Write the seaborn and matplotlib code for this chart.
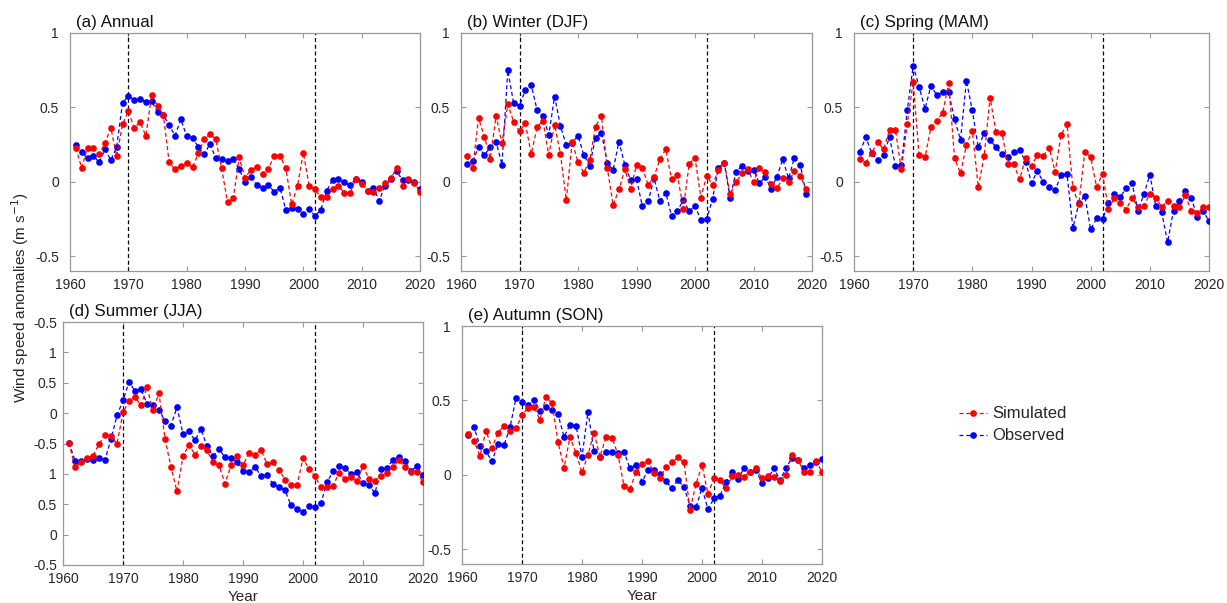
import numpy as np
import pandas as pd
import matplotlib
matplotlib.use("Agg")
import matplotlib.pyplot as plt
from matplotlib.lines import Line2D
import seaborn as sns

# ---------------- data ----------------
years = list(range(1961, 2021))
years_djf = list(range(1961, 2020))

annual_sim = [0.226, 0.094, 0.229, 0.229, 0.186, 0.26, 0.363, 0.17, 0.386, 0.475,
              0.363, 0.40, 0.31, 0.583, 0.51, 0.45, 0.13, 0.083, 0.105, 0.128,
              0.096, 0.19, 0.285, 0.32, 0.285, 0.09, -0.137, -0.108, 0.164, 0.027,
              0.078, 0.10, 0.052, 0.085, 0.175, 0.175, 0.09, -0.152, -0.027, 0.195,
              -0.027, -0.05, -0.103, -0.105, -0.047, -0.027, -0.074, -0.074, 0.016, -0.018,
              -0.06, -0.067, -0.04, -0.007, 0.022, 0.094, -0.027, 0.016, -0.007, -0.067]
annual_obs = [0.25, 0.20, 0.157, 0.175, 0.13, 0.217, 0.146, 0.233, 0.53, 0.576,
              0.55, 0.556, 0.536, 0.545, 0.466, 0.45, 0.38, 0.31, 0.42, 0.307,
              0.296, 0.233, 0.184, 0.255, 0.157, 0.152, 0.137, 0.15, 0.085, -0.002,
              0.034, -0.022, -0.04, -0.022, -0.067, -0.04, -0.19, -0.175, -0.18, -0.22,
              -0.186, -0.23, -0.19, -0.06, 0.011, 0.018, -0.004, -0.022, 0.016, 0.0,
              -0.063, -0.04, -0.128, -0.027, 0.02, 0.072, 0.011, 0.011, 0.0, -0.05]

winter_sim = [0.173, 0.09, 0.427, 0.303, 0.155, 0.443, 0.258, 0.521, 0.404, 0.34,
              0.393, 0.187, 0.366, 0.411, 0.18, 0.382, 0.187, -0.124, 0.27, 0.133,
              0.061, 0.146, 0.371, 0.443, 0.094, -0.157, -0.052, 0.083, -0.047, 0.112,
              0.094, -0.022, 0.034, 0.153, 0.218, 0.018, 0.045, -0.18, 0.119, 0.162,
              -0.106, 0.04, -0.022, 0.079, 0.128, -0.085, -0.004, 0.056, 0.085, 0.0,
              0.09, 0.067, -0.016, -0.045, 0.022, -0.004, 0.074, 0.038, -0.049]
winter_obs = [0.117, 0.137, 0.231, 0.18, 0.231, 0.27, 0.115, 0.748, 0.528, 0.51,
              0.618, 0.652, 0.483, 0.443, 0.315, 0.573, 0.375, 0.247, 0.263, 0.308,
              0.18, 0.108, 0.297, 0.33, 0.128, 0.079, 0.27, 0.115, 0.011, 0.018,
              -0.164, -0.13, 0.022, -0.128, -0.074, -0.231, -0.196, -0.124, -0.198, -0.162,
              -0.258, -0.249, -0.117, 0.094, 0.128, -0.108, 0.063, 0.106, 0.072, 0.079,
              -0.011, 0.034, -0.047, 0.034, 0.151, 0.022, 0.162, 0.115, -0.083]

spring_sim = [0.151, 0.128, 0.196, 0.265, 0.218, 0.348, 0.348, 0.083, 0.389, 0.67,
              0.178, 0.164, 0.366, 0.411, 0.465, 0.663, 0.157, 0.056, 0.247, 0.344,
              -0.038, 0.173, 0.566, 0.333, 0.33, 0.119, 0.117, 0.016, 0.162, 0.108,
              0.18, 0.175, 0.229, 0.065, 0.315, 0.387, -0.045, -0.151, 0.2, 0.166,
              -0.034, 0.052, -0.18, -0.112, -0.142, -0.187, -0.106, -0.173, -0.164, -0.079,
              -0.106, -0.169, -0.13, -0.164, -0.169, -0.092, -0.196, -0.213, -0.169, -0.171]
spring_obs = [0.202, 0.299, 0.191, 0.146, 0.18, 0.299, 0.108, 0.112, 0.479, 0.78,
              0.64, 0.49, 0.645, 0.582, 0.60, 0.60, 0.42, 0.281, 0.679, 0.479,
              0.231, 0.326, 0.281, 0.231, 0.184, 0.169, 0.198, 0.213, 0.135, -0.007,
              0.072, -0.004, -0.038, -0.056, 0.045, 0.052, -0.31, -0.146, -0.094, -0.321,
              -0.247, -0.252, -0.146, -0.083, -0.101, -0.045, -0.011, -0.196, -0.083, 0.047,
              -0.164, -0.204, -0.407, -0.196, -0.13, -0.065, -0.106, -0.236, -0.196, -0.265]

# summer panel values as positioned on its (oddly labelled) y axis
summer_sim = [-0.49, -0.893, -0.80, -0.745, -0.70, -0.51, -0.356, -0.384, -0.504, 0.011,
              0.203, 0.263, 0.126, 0.427, 0.044, 0.329, -0.422, -0.893, -1.288, -0.712,
              -0.52, -0.685, -0.548, -0.614, -0.81, -0.86, -1.16, -0.86, -0.70, -0.86,
              -0.658, -0.685, -0.603, -0.838, -0.81, -0.93, -1.096, -1.19, -1.19, -0.74,
              -0.92, -1.04, -1.22, -1.216, -1.195, -0.986, -1.085, -1.058, -1.123, -0.866,
              -1.085, -1.112, -1.03, -0.986, -0.888, -0.778, -0.888, -0.97, -0.97, -1.134]
summer_obs = [-0.49, -0.78, -0.78, -0.756, -0.767, -0.745, -0.767, -0.427, -0.038, 0.208,
              0.51, 0.367, 0.395, 0.153, 0.126, 0.044, -0.126, -0.208, 0.099, -0.345,
              -0.30, -0.449, -0.258, -0.548, -0.70, -0.59, -0.729, -0.74, -0.81, -0.96,
              -0.97, -0.888, -1.03, -1.025, -1.167, -1.216, -1.27, -1.518, -1.573, -1.627,
              -1.534, -1.545, -1.479, -1.14, -0.96, -0.877, -0.904, -1.003, -0.975, -1.15,
              -1.19, -1.315, -0.915, -0.90, -0.767, -0.729, -0.795, -0.96, -0.866, -1.025]
summer_ticks = [-2.5, -2.0, -1.5, -1.0, -0.5, 0.0, 0.5, 1.0, 1.5]
summer_ticklabels = ['-0.5', '0', '0.5', '1', '-0.5', '0', '0.5', '1', '-0.5']

autumn_sim = [0.273, 0.228, 0.128, 0.296, 0.179, 0.284, 0.329, 0.291, 0.313, 0.40,
              0.452, 0.457, 0.369, 0.524, 0.481, 0.222, 0.045, 0.255, 0.146, 0.016,
              0.134, 0.284, 0.121, 0.255, 0.25, 0.134, -0.074, -0.096, 0.016, 0.072,
              0.094, 0.011, -0.025, 0.054, 0.083, 0.116, 0.083, -0.235, -0.063, 0.065,
              -0.13, -0.02, -0.036, -0.092, -0.011, 0.0, -0.013, 0.02, 0.043, -0.025,
              -0.011, -0.018, -0.045, 0.0, 0.134, 0.10, 0.016, 0.016, 0.09, 0.02]
autumn_obs = [0.269, 0.318, 0.195, 0.157, 0.09, 0.206, 0.199, 0.318, 0.515, 0.486,
              0.468, 0.504, 0.43, 0.457, 0.437, 0.407, 0.255, 0.336, 0.329, 0.121,
              0.425, 0.157, 0.116, 0.154, 0.15, 0.143, 0.154, 0.043, 0.065, -0.047,
              0.031, 0.031, 0.004, -0.045, -0.092, -0.034, -0.085, -0.208, -0.219, -0.09,
              -0.23, -0.159, -0.141, -0.047, 0.02, -0.029, 0.045, 0.016, 0.031, -0.058,
              -0.025, 0.045, -0.038, 0.045, 0.112, 0.10, 0.047, 0.067, 0.083, 0.105]

titles = ['(a) Annual', '(b) Winter (DJF)', '(c) Spring (MAM)', '(d) Summer (JJA)', '(e) Autumn (SON)']
breaks = [1970, 2002]
xticks = [1960, 1970, 1980, 1990, 2000, 2010, 2020]
std_yticks = [-0.5, 0, 0.5, 1]
std_yticklabels = ['-0.5', '0', '0.5', '1']
series_names = ['Simulated', 'Observed']
colors = {'Simulated': '#ff0000', 'Observed': '#0000ff'}

# ---------------- style ----------------
sns.set_style('white')
plt.rcParams['font.family'] = ['Liberation Sans', 'DejaVu Sans']
plt.rcParams['axes.unicode_minus'] = False

W, H = 1227, 603
fig = plt.figure(figsize=(W / 100, H / 100), dpi=100)

def box(x0, y0, x1, y1):
    return [x0 / W, 1 - y1 / H, (x1 - x0) / W, (y1 - y0) / H]

axes_boxes = [box(70, 33, 420, 271), box(461, 33, 812, 271), box(854, 33, 1209, 271),
              box(63, 322, 423, 565), box(462, 326, 822, 564)]

panels = [
    (years, annual_sim, annual_obs),
    (years_djf, winter_sim, winter_obs),
    (years, spring_sim, spring_obs),
    (years, summer_sim, summer_obs),
    (years, autumn_sim, autumn_obs),
]

spine_col = '#9a9a9a'
text_col = '#262626'
dash = (0, (3.2, 2.2))

for i, (bx, (yr, sim, obs)) in enumerate(zip(axes_boxes, panels)):
    ax = fig.add_axes(bx)
    df = pd.DataFrame({'Year': yr * 2,
                       'value': list(sim) + list(obs),
                       'series': [series_names[0]] * len(sim) + [series_names[1]] * len(obs)})
    for name in series_names:
        sub = df[df['series'] == name]
        sns.lineplot(data=sub, x='Year', y='value', ax=ax, color=colors[name],
                     linestyle=dash, linewidth=0.9, marker='o', markersize=4.8,
                     markeredgewidth=0, markerfacecolor=colors[name], label=name,
                     legend=False, zorder=3 if name == 'Observed' else 4)
    for b in breaks:
        ax.axvline(b, color='black', linestyle=dash, linewidth=0.9, zorder=2)
    ax.set_xlim(1960, 2020)
    ax.set_xticks(xticks)
    ax.set_xticklabels([str(t) for t in xticks])
    if i == 3:
        ax.set_ylim(-2.5, 1.5)
        ax.set_yticks(summer_ticks)
        ax.set_yticklabels(summer_ticklabels)
    else:
        ax.set_ylim(-0.6, 1.0)
        ax.set_yticks(std_yticks)
        ax.set_yticklabels(std_yticklabels)
    ax.set_xlabel('Year' if i in (3, 4) else '', fontsize=11, color=text_col, labelpad=3)
    ax.set_ylabel('')
    for s in ax.spines.values():
        s.set_color(spine_col)
        s.set_linewidth(0.9)
        s.set_visible(True)
    ax.tick_params(direction='in', length=3.5, width=0.8, color=spine_col,
                   labelsize=10, labelcolor=text_col, top=True, right=True,
                   bottom=True, left=True)
    ax.tick_params(axis='x', pad=5)
    ax.tick_params(axis='y', pad=4.5 if i == 3 else 8)
    ax.text(0.017, 1.012, titles[i], transform=ax.transAxes, ha='left', va='bottom',
            fontsize=12.2, color='#111111')

fig.text(20 / W, 1 - 298 / H, 'Wind speed anomalies (m s$^{-1}$)', rotation=90,
         ha='center', va='center', fontsize=11, color=text_col)

handles = [Line2D([0], [0], color=colors[n], linestyle=dash, linewidth=0.9,
                  marker='o', markersize=4.8, markeredgewidth=0) for n in series_names]
fig.legend(handles, series_names, loc='center left',
           bbox_to_anchor=(944 / W, 1 - 425 / H), frameon=False, fontsize=12,
           handlelength=1.65, handletextpad=0.35, labelspacing=0.42, labelcolor=text_col)

fig.savefig('out.png', dpi=100)
